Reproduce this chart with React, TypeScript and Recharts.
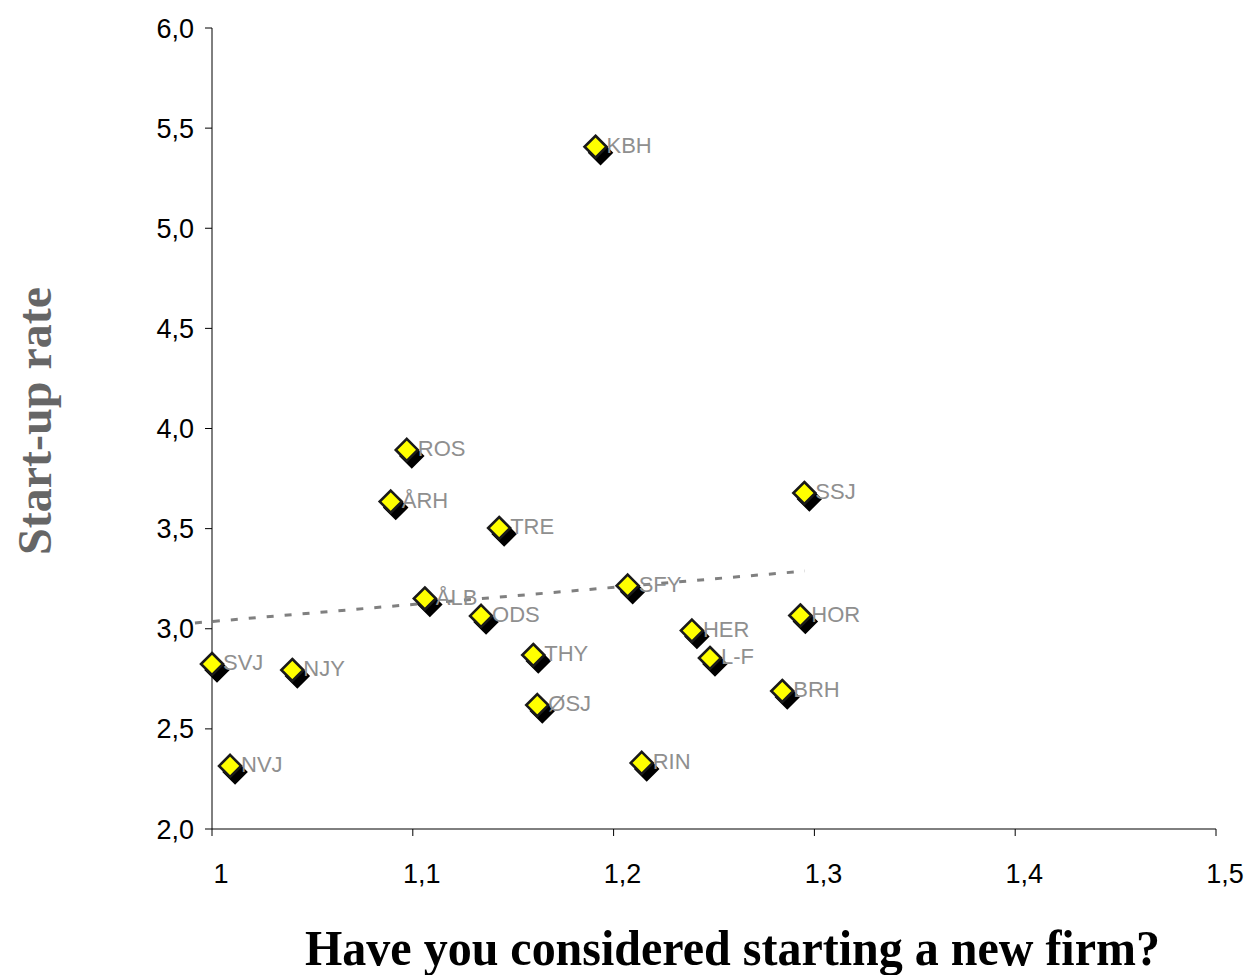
import React from 'react';
import { ScatterChart, Scatter, XAxis, YAxis, ReferenceLine } from 'recharts';

const regions = ['KBH', 'ROS', 'ÅRH', 'TRE', 'SSJ', 'SFY', 'ÅLB', 'ODS', 'HOR', 'HER', 'THY', 'L-F', 'SVJ', 'NJY', 'BRH', 'ØSJ', 'NVJ', 'RIN'];
const considered = [1.191, 1.097, 1.089, 1.143, 1.295, 1.207, 1.106, 1.134, 1.293, 1.239, 1.160, 1.248, 1.0, 1.040, 1.284, 1.162, 1.009, 1.214];
const startupRate = [5.407, 3.893, 3.635, 3.503, 3.678, 3.215, 3.151, 3.064, 3.066, 2.991, 2.869, 2.854, 2.824, 2.794, 2.689, 2.619, 2.315, 2.330];

const xTicks = [1, 1.1, 1.2, 1.3, 1.4, 1.5];
const yTicks = [2, 2.5, 3, 3.5, 4, 4.5, 5, 5.5, 6];

const trendX = [0.9915, 1.2953];
const trendY = [3.029, 3.288];

const data = regions.map((name, i) => ({ name, x: considered[i], y: startupRate[i] }));

const fmtX = (v: number) => (v === 1 ? '1' : v.toFixed(1).replace('.', ','));
const fmtY = (v: number) => v.toFixed(1).replace('.', ',');

const SANS = '"Liberation Sans", Arial, sans-serif';
const SERIF = '"Liberation Serif", "Times New Roman", serif';

const Diamond = (props: any) => {
  const { cx, cy, payload } = props;
  if (cx == null || cy == null) return null;
  const r = 11;
  const pts = (ox: number, oy: number) =>
    `${cx + ox},${cy + oy - r} ${cx + ox + r},${cy + oy} ${cx + ox},${cy + oy + r} ${cx + ox - r},${cy + oy}`;
  return (
    <g>
      <polygon points={pts(5, 6)} fill="#000" stroke="#000" strokeWidth={2.5} />
      <polygon points={pts(0, 0)} fill="#FFFF00" stroke="#1a1a1a" strokeWidth={2.6} />
      <text x={cx + 11} y={cy + 6} fontSize={22} fill="#8f8f8f" fontFamily={SANS}>
        {payload.name}
      </text>
    </g>
  );
};

const XTick = (props: any) => {
  const { x, y, payload } = props;
  return (
    <text x={x + 9} y={y} dy="0.71em" textAnchor="middle" fontSize={27} fill="#000" fontFamily={SANS}>
      {fmtX(payload.value)}
    </text>
  );
};

const XTitle = () => (
  <text x={297} y={957} fontSize={51} fontWeight="bold" fill="#000" fontFamily={SERIF} textLength={855} lengthAdjust="spacingAndGlyphs">
    Have you considered starting a new firm?
  </text>
);

const YTitle = () => (
  <text
    x={0}
    y={0}
    transform="translate(43,413) rotate(-90)"
    textAnchor="middle"
    fontSize={48}
    fontWeight="bold"
    fill="#666666"
    fontFamily={SERIF}
    textLength={268}
    lengthAdjust="spacingAndGlyphs"
  >
    Start-up rate
  </text>
);

export default function App() {
  return (
    <ScatterChart width={1240} height={967} margin={{ top: 20, right: 32, left: 0, bottom: 0 }}>
      <XAxis
        type="number"
        dataKey="x"
        domain={[1, 1.5]}
        ticks={xTicks}
        tick={<XTick />}
        tickSize={7}
        tickMargin={28}
        height={146}
        stroke="#000"
        tickLine={{ stroke: '#000' }}
        label={{ content: () => <XTitle /> }}
      />
      <YAxis
        type="number"
        dataKey="y"
        domain={[2, 6]}
        ticks={yTicks}
        tickFormatter={fmtY}
        tick={{ fontSize: 27, fill: '#000', fontFamily: SANS }}
        tickSize={7}
        tickMargin={11}
        width={204}
        stroke="#000"
        tickLine={{ stroke: '#000' }}
        label={{ content: () => <YTitle /> }}
      />
      <Scatter data={data} shape={<Diamond />} isAnimationActive={false} />
      <ReferenceLine
        segment={[
          { x: trendX[0], y: trendY[0] },
          { x: trendX[1], y: trendY[1] },
        ]}
        stroke="#808080"
        strokeWidth={3}
        strokeDasharray="7 11"
        ifOverflow="visible"
      />
    </ScatterChart>
  );
}
